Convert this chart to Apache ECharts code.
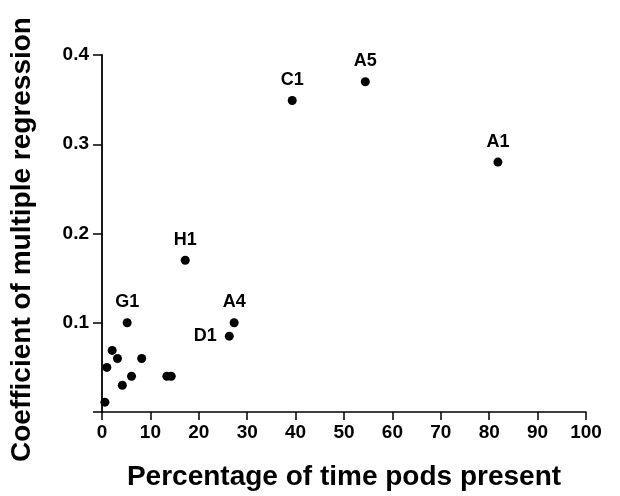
<!DOCTYPE html>
<html>
<head>
<meta charset="utf-8">
<script src="https://cdn.jsdelivr.net/npm/echarts@6/dist/echarts.min.js"></script>
<style>
html,body{margin:0;padding:0;background:#fff;}
#chart{width:620px;height:496px;}
</style>
</head>
<body>
<div id="chart"></div>
<script>
const pointX = [0.6, 1.0, 2.1, 3.2, 4.2, 5.2, 6.1, 8.2, 13.4, 14.3, 17.2, 26.3, 27.3, 39.3, 54.4, 81.8];
const pointY = [0.011, 0.050, 0.069, 0.060, 0.030, 0.100, 0.040, 0.060, 0.040, 0.040, 0.170, 0.085, 0.100, 0.349, 0.370, 0.280];
const pointNames = ['', '', '', '', '', 'G1', '', '', '', '', 'H1', 'D1', 'A4', 'C1', 'A5', 'A1'];
const leftLabelled = ['D1'];
const xTitle = 'Percentage of time pods present';
const yTitle = 'Coefficient of multiple regression';

const FONT = '"Liberation Sans", Arial, Helvetica, sans-serif';

const data = pointX.map((x, i) => ({
  value: [x, pointY[i]],
  name: pointNames[i],
  label: {
    show: pointNames[i] !== '',
    position: leftLabelled.includes(pointNames[i]) ? 'left' : 'top',
    distance: leftLabelled.includes(pointNames[i]) ? 8 : 7
  }
}));

const chart = echarts.init(document.getElementById('chart'), null, {renderer: 'canvas'});
chart.setOption({
  backgroundColor: '#fff',
  animation: false,
  grid: {left: 102, right: 34, top: 55, bottom: 83, containLabel: false},
  xAxis: {
    type: 'value', min: 0, max: 100, interval: 10,
    name: xTitle, nameLocation: 'middle', nameGap: 51,
    nameTextStyle: {fontFamily: FONT, fontWeight: 'bold', fontSize: 28, color: '#000'},
    axisLine: {show: true, onZero: false, lineStyle: {color: '#000', width: 1.5}},
    axisTick: {show: true, length: 8, lineStyle: {color: '#000', width: 1.5}},
    axisLabel: {fontFamily: FONT, fontWeight: 'bold', fontSize: 19, color: '#000', margin: 11},
    splitLine: {show: false}
  },
  yAxis: {
    type: 'value', min: 0, max: 0.4, interval: 0.1,
    name: yTitle, nameLocation: 'middle', nameGap: 66,
    nameTextStyle: {fontFamily: FONT, fontWeight: 'bold', fontSize: 28, color: '#000', padding: [0, 12, 0, 0]},
    axisLine: {show: true, onZero: false, lineStyle: {color: '#000', width: 1.8}},
    axisTick: {show: true, length: 9, lineStyle: {color: '#000', width: 1.5}},
    axisLabel: {fontFamily: FONT, fontWeight: 'bold', fontSize: 19, color: '#000', margin: 13,
      formatter: v => (v === 0 ? '' : v.toFixed(1))},
    splitLine: {show: false}
  },
  series: [{
    type: 'scatter',
    symbol: 'circle',
    symbolSize: 9,
    itemStyle: {color: '#000', opacity: 1},
    clip: false,
    label: {
      fontFamily: FONT, fontWeight: 'bold', fontSize: 18, color: '#000',
      formatter: p => p.name
    },
    data: data
  }]
});
</script>
</body>
</html>
